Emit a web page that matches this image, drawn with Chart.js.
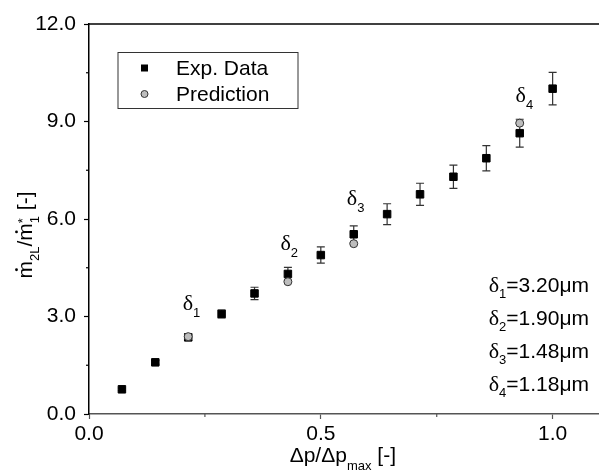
<!DOCTYPE html>
<html>
<head>
<meta charset="utf-8">
<script src="https://cdn.jsdelivr.net/npm/chart.js@4.4.0/dist/chart.umd.min.js"></script>
<style>
  html, body { margin: 0; padding: 0; background: #fff; overflow: hidden; }
  canvas { display: block; }
</style>
</head>
<body>
<canvas id="chart" width="599" height="476"></canvas>
<script>
// measured values
var pressureRatio = [0.071, 0.143, 0.214, 0.286, 0.357, 0.429, 0.5, 0.571, 0.643, 0.714, 0.786, 0.857, 0.929, 1.0];
var expData  = [0.76, 1.59, 2.36, 3.08, 3.71, 4.31, 4.89, 5.53, 6.15, 6.76, 7.30, 7.87, 8.64, 10.01];
var expError = [0.04, 0.06, 0.10, 0.12, 0.19, 0.20, 0.25, 0.26, 0.32, 0.34, 0.36, 0.39, 0.43, 0.50];
var predRatio = [0.214, 0.429, 0.571, 0.929];
var predData  = [2.38, 4.07, 5.24, 8.95];

var xTicks = [0, 0.5, 1.0];
var xMinor = [0.25, 0.75];
var yTicks = [0, 3, 6, 9, 12];
var yMinor = [1.5, 4.5, 7.5, 10.5];

// delta labels next to the prediction points, and the list on the right
var deltaIndex = ['1', '2', '3', '4'];
var deltaAtX = [0.202, 0.413, 0.556, 0.920];
var deltaAtY = [3.20, 5.05, 6.43, 9.60];
var deltaValue = ['3.20', '1.90', '1.48', '1.18'];

var SANS = '"Liberation Sans", Arial, sans-serif';
var SERIF = '"Liberation Serif", "Times New Roman", serif';
var mainFont = '21px ' + SANS;
var subFont = '13px ' + SANS;
var greekFont = '22px ' + SERIF;

function xy(xs, ys) {
  return xs.map(function (x, i) { return { x: x, y: ys[i] }; });
}

function partsWidth(ctx, parts) {
  var w = 0;
  parts.forEach(function (p) {
    ctx.font = p.font;
    if (!p.stay) w += ctx.measureText(p.text).width;
  });
  return w;
}

function drawParts(ctx, x, y, parts) {
  parts.forEach(function (p) {
    ctx.font = p.font;
    ctx.fillText(p.text, x, y + (p.dy || 0));
    if (p.dot) {
      var mw = ctx.measureText(p.text).width;
      ctx.beginPath();
      ctx.arc(x + mw / 2, y - 15.5, 1.4, 0, Math.PI * 2);
      ctx.fill();
    }
    if (!p.stay) x += ctx.measureText(p.text).width;
  });
  return x;
}

var extras = {
  id: 'extras',
  beforeDatasetsDraw: function (chart) {
    var ctx = chart.ctx, xs = chart.scales.x, ys = chart.scales.y;
    ctx.save();
    ctx.strokeStyle = '#333';
    ctx.lineWidth = 1.2;
    pressureRatio.forEach(function (x, i) {
      var px = xs.getPixelForValue(x);
      var top = ys.getPixelForValue(expData[i] + expError[i]);
      var bot = ys.getPixelForValue(expData[i] - expError[i]);
      ctx.beginPath();
      ctx.moveTo(px, top); ctx.lineTo(px, bot);
      ctx.moveTo(px - 4, top); ctx.lineTo(px + 4, top);
      ctx.moveTo(px - 4, bot); ctx.lineTo(px + 4, bot);
      ctx.stroke();
    });
    ctx.restore();
  },
  afterDraw: function (chart) {
    var ctx = chart.ctx, a = chart.chartArea, xs = chart.scales.x, ys = chart.scales.y;
    ctx.save();

    // top frame line
    ctx.strokeStyle = '#000';
    ctx.lineWidth = 1.5;
    ctx.beginPath();
    ctx.moveTo(a.left, a.top); ctx.lineTo(chart.width, a.top);
    ctx.stroke();

    // minor ticks
    ctx.lineWidth = 1.2;
    ctx.strokeStyle = '#555';
    xMinor.forEach(function (v) {
      var px = xs.getPixelForValue(v);
      ctx.beginPath(); ctx.moveTo(px, a.bottom); ctx.lineTo(px, a.bottom + 3); ctx.stroke();
    });
    ctx.strokeStyle = '#000';
    yMinor.forEach(function (v) {
      var py = ys.getPixelForValue(v);
      ctx.beginPath(); ctx.moveTo(a.left - 3, py); ctx.lineTo(a.left, py); ctx.stroke();
    });

    // legend
    var lx = a.left + 28.5, ly = a.top + 28, lw = 180, lh = 56;
    ctx.strokeStyle = '#333';
    ctx.lineWidth = 1;
    ctx.strokeRect(lx + 0.5, ly + 0.5, lw, lh);
    ctx.textBaseline = 'middle';
    ctx.fillStyle = '#000';
    var ds = chart.data.datasets;
    ctx.fillRect(lx + 23.5, ly + 16 - 3.5, 7, 7);
    ctx.beginPath();
    ctx.arc(lx + 27, ly + 42, 3.5, 0, Math.PI * 2);
    ctx.fillStyle = ds[1].backgroundColor; ctx.fill();
    ctx.strokeStyle = ds[1].borderColor; ctx.stroke();
    ctx.fillStyle = '#000';
    ctx.font = mainFont;
    ctx.fillText(ds[0].label, lx + 58.5, ly + 17);
    ctx.fillText(ds[1].label, lx + 58.5, ly + 43);

    // delta labels in the plot
    ctx.textBaseline = 'alphabetic';
    deltaIndex.forEach(function (n, i) {
      drawParts(ctx, xs.getPixelForValue(deltaAtX[i]), ys.getPixelForValue(deltaAtY[i]), [
        { text: 'δ', font: greekFont },
        { text: n, font: subFont, dy: 7 }
      ]);
    });

    // list of delta values, right aligned
    deltaIndex.forEach(function (n, i) {
      var parts = [
        { text: 'δ', font: greekFont },
        { text: n, font: subFont, dy: 6 },
        { text: '=' + deltaValue[i] + 'μm', font: mainFont }
      ];
      var w = partsWidth(ctx, parts);
      drawParts(ctx, chart.width - 10 - w, a.bottom - 122.5 + i * 33, parts);
    });

    // x axis title
    var xt = [
      { text: 'Δp/Δp', font: mainFont },
      { text: 'max', font: subFont, dy: 8 },
      { text: ' [-]', font: mainFont }
    ];
    var xw = partsWidth(ctx, xt);
    drawParts(ctx, xs.getPixelForValue(0.5) + 22 - xw / 2, 462, xt);

    // y axis title, rotated
    var yt = [
      { text: 'm', font: mainFont, dot: true },
      { text: '2L', font: subFont, dy: 7 },
      { text: '/', font: mainFont },
      { text: 'm', font: mainFont, dot: true },
      { text: '*', font: subFont, dy: -5, stay: true },
      { text: '1', font: subFont, dy: 7 },
      { text: ' [-]', font: mainFont }
    ];
    ctx.translate(32, (a.top + a.bottom) / 2 + 16);
    ctx.rotate(-Math.PI / 2);
    var yw = partsWidth(ctx, yt);
    drawParts(ctx, -yw / 2, 0, yt);

    ctx.restore();
  }
};

var ctx = document.getElementById('chart');
var chart = new Chart(ctx, {
  type: 'scatter',
  data: {
    datasets: [{
      label: 'Exp. Data',
      data: xy(pressureRatio, expData),
      pointStyle: 'rect',
      pointRadius: 5.3,
      backgroundColor: '#000',
      borderColor: '#000',
      borderWidth: 1,
      order: 2
    }, {
      label: 'Prediction',
      data: xy(predRatio, predData),
      pointStyle: 'circle',
      pointRadius: 4,
      backgroundColor: '#bdbdbd',
      borderColor: '#333',
      borderWidth: 1,
      order: 1
    }]
  },
  options: {
    responsive: false,
    animation: false,
    layout: { autoPadding: false, padding: { top: 24, right: -2, left: 0, bottom: 0 } },
    plugins: { legend: { display: false }, tooltip: { enabled: false } },
    scales: {
      x: {
        type: 'linear', min: 0, max: 1.1,
        afterFit: function (s) { s.height = 62; s.paddingRight = 0; s.paddingLeft = 0; },
        afterBuildTicks: function (s) { s.ticks = xTicks.map(function (v) { return { value: v }; }); },
        border: { display: true, color: '#555', width: 1.5 },
        grid: { drawOnChartArea: false, drawTicks: true, tickLength: 5, tickColor: '#555', tickWidth: 1.2 },
        ticks: {
          color: '#000', padding: 3, maxRotation: 0,
          font: { family: SANS, size: 21 },
          callback: function (v) { return v.toFixed(1); }
        }
      },
      y: {
        type: 'linear', min: 0, max: 12,
        afterFit: function (s) { s.width = 89; },
        afterBuildTicks: function (s) { s.ticks = yTicks.map(function (v) { return { value: v }; }); },
        border: { display: true, color: '#000', width: 1.5 },
        grid: { drawOnChartArea: false, drawTicks: true, tickLength: 5, tickColor: '#000', tickWidth: 1.2 },
        ticks: {
          color: '#000', padding: 8,
          font: { family: SANS, size: 21 },
          callback: function (v) { return v.toFixed(1); }
        }
      }
    }
  },
  plugins: [extras]
});
</script>
</body>
</html>
